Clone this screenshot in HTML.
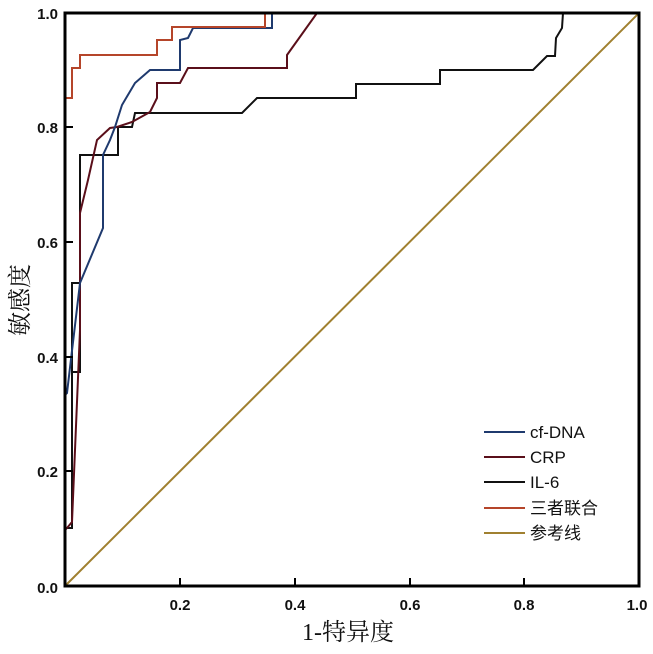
<!DOCTYPE html>
<html><head><meta charset="utf-8"><style>
html,body{margin:0;padding:0;background:#fff;}
svg{display:block;}
.t{font-family:"Liberation Sans",Arial,sans-serif;font-size:15px;font-weight:bold;fill:#111;}
.l{font-family:"Liberation Sans","Noto Sans CJK SC",sans-serif;font-size:17px;fill:#111;}
</style></head><body>
<svg width="653" height="654" viewBox="0 0 653 654" xmlns="http://www.w3.org/2000/svg">
<rect width="653" height="654" fill="#fff"/>
<line x1="65" y1="586" x2="639" y2="13" stroke="#a08030" stroke-width="2"/>
<!-- IL-6 -->
<polyline fill="none" stroke="#111" stroke-width="2" points="65,586 65,528 72,528 72,372 80,372 80,155 88,155 88,155 118,155 118,127 132,127 135,113 242,113 257,98 356,98 356,84 440,84 440,70 533,70 547,56 555,56 556,38 562,28 563,13"/>
<polyline fill="none" stroke="#111" stroke-width="2" points="72,528 72,372 80,372 80,283 72,283 72,372"/>
<!-- CRP -->
<polyline fill="none" stroke="#5a0f1a" stroke-width="2" points="65,530 67,528 72,522 80,330 80,213 88,180 97,140 110,128 117,127 132,122 150,112 157,98 157,83 180,83 188,68 287,68 287,55 317,13 639,13"/>
<!-- cf-DNA -->
<polyline fill="none" stroke="#1f3a6e" stroke-width="2" points="65,395 67,393 80,283 103,228 103,155 110,140 115,127 122,105 135,83 150,70 180,70 180,40 188,38 193,28 272,28 272,13"/>
<!-- combined -->
<polyline fill="none" stroke="#b5452a" stroke-width="2" points="65,98 72,98 72,68 80,68 80,55 157,55 157,40 172,40 172,27 265,27 265,13"/>
<!-- frame -->
<rect x="65" y="13" width="574" height="573" fill="none" stroke="#000" stroke-width="3"/>
<g stroke="#000" stroke-width="2">
<line x1="180" y1="586" x2="180" y2="578"/><line x1="295" y1="586" x2="295" y2="578"/>
<line x1="410" y1="586" x2="410" y2="578"/><line x1="524" y1="586" x2="524" y2="578"/>
<line x1="65" y1="127" x2="73" y2="127"/><line x1="65" y1="242" x2="73" y2="242"/>
<line x1="65" y1="357" x2="73" y2="357"/><line x1="65" y1="471" x2="73" y2="471"/>
</g>
<g class="t" text-anchor="end">
<text x="58" y="19">1.0</text><text x="58" y="133">0.8</text><text x="58" y="248">0.6</text>
<text x="58" y="363">0.4</text><text x="58" y="477">0.2</text><text x="58" y="593">0.0</text>
</g>
<g class="t" text-anchor="middle">
<text x="180" y="610">0.2</text><text x="295" y="610">0.4</text><text x="410" y="610">0.6</text>
<text x="524" y="610">0.8</text><text x="637" y="610">1.0</text>
</g>
<text x="348" y="640" text-anchor="middle" style="font-family:'Liberation Serif','Noto Serif CJK SC',serif;font-size:24px;fill:#111">1-特异度</text>
<text transform="translate(28,300) rotate(-90)" text-anchor="middle" style="font-family:'Liberation Serif','Noto Serif CJK SC',serif;font-size:24px;fill:#111">敏感度</text>
<!-- legend -->
<g stroke-width="2">
<line x1="484" y1="432" x2="525" y2="432" stroke="#1f3a6e"/>
<line x1="484" y1="457" x2="525" y2="457" stroke="#5a0f1a"/>
<line x1="484" y1="482" x2="525" y2="482" stroke="#111"/>
<line x1="484" y1="508" x2="525" y2="508" stroke="#b5452a"/>
<line x1="484" y1="533" x2="525" y2="533" stroke="#a08030"/>
</g>
<g class="l">
<text x="530" y="438">cf-DNA</text><text x="530" y="463">CRP</text><text x="530" y="488">IL-6</text>
<text x="530" y="514">三者联合</text><text x="530" y="539">参考线</text>
</g>
</svg>
</body></html>
